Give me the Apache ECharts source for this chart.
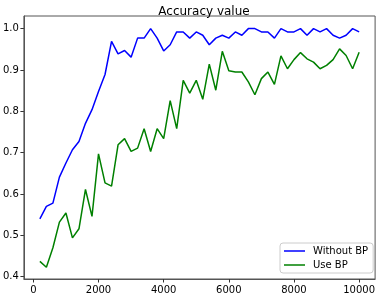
<!DOCTYPE html>
<html>
<head>
<meta charset="utf-8">
<script src="https://cdn.jsdelivr.net/npm/echarts@6/dist/echarts.min.js"></script>
<style>
html,body{margin:0;padding:0;background:#fff;}
#chart{width:378px;height:297px;}
</style>
</head>
<body>
<div id="chart"></div>
<script>
var steps = [200,400,600,800,1000,1200,1400,1600,1800,2000,
  2200,2400,2600,2800,3000,3200,3400,3600,3800,4000,
  4200,4400,4600,4800,5000,5200,5400,5600,5800,6000,
  6200,6400,6600,6800,7000,7200,7400,7600,7800,8000,
  8200,8400,8600,8800,9000,9200,9400,9600,9800,10000];
var withoutBP = [0.540,0.570,0.578,0.641,0.675,0.707,0.727,0.771,0.804,0.848,
  0.889,0.969,0.939,0.947,0.931,0.977,0.977,1.000,0.977,0.946,
  0.961,0.992,0.992,0.977,0.992,0.984,0.961,0.977,0.984,0.977,
  0.992,0.984,1.000,1.000,0.992,0.992,0.977,1.000,0.992,0.992,
  1.000,0.984,1.000,0.992,1.000,0.984,0.977,0.984,1.000,0.992];
var useBP = [0.437,0.423,0.470,0.532,0.554,0.494,0.516,0.611,0.546,0.697,
  0.627,0.619,0.719,0.734,0.703,0.711,0.758,0.703,0.758,0.734,
  0.826,0.758,0.875,0.844,0.875,0.829,0.914,0.851,0.945,0.898,
  0.895,0.895,0.871,0.840,0.879,0.895,0.865,0.934,0.903,0.925,
  0.942,0.927,0.919,0.903,0.911,0.925,0.951,0.935,0.903,0.943];
var xTicks = [0,2000,4000,6000,8000,10000];
var yTicks = [0.4,0.5,0.6,0.7,0.8,0.9,1.0];
var seriesNames = ['Without BP','Use BP'];
var titleText = 'Accuracy value';

function pairs(xs, ys){ return xs.map(function(x,i){ return [x, ys[i]]; }); }

var font = 'DejaVu Sans';
var chart = echarts.init(document.getElementById('chart'), null, {renderer:'canvas'});
chart.setOption({
  animation:false,
  backgroundColor:'#fff',
  title:{text:titleText, left:199, top:1, textAlign:'center',
    textStyle:{fontFamily:font, fontSize:12, fontWeight:'normal', color:'#000'}},
  grid:{left:23, right:2.5, top:16, bottom:18, show:true, borderColor:'#555', borderWidth:1, containLabel:false},
  xAxis:{type:'value', min:-290, max:10490,
    axisLine:{show:true, onZero:false, lineStyle:{color:'#555', width:1}},
    axisTick:{show:true, length:3.5, lineStyle:{color:'#333'}, customValues:xTicks},
    axisLabel:{show:true, margin:6, fontFamily:font, fontSize:10, color:'#000', customValues:xTicks,
      formatter:function(v){return String(v);}},
    splitLine:{show:false}},
  yAxis:{type:'value', min:0.3945, max:1.0305,
    axisLine:{show:true, onZero:false, lineStyle:{color:'#555', width:1}},
    axisTick:{show:true, length:3.5, lineStyle:{color:'#333'}, customValues:yTicks},
    axisLabel:{show:true, margin:5, fontFamily:font, fontSize:10, color:'#000', customValues:yTicks,
      formatter:function(v){return v.toFixed(1);}},
    splitLine:{show:false}},
  legend:{orient:'vertical', left:280, top:243, icon:'rect', itemWidth:21, itemHeight:1.5, itemGap:4,
    padding:[3,5,3,4], borderColor:'#ccc', borderWidth:1, borderRadius:3, backgroundColor:'#fff',
    textStyle:{fontFamily:font, fontSize:10, color:'#000', padding:[0,0,0,3]},
    data:seriesNames},
  series:[
    {name:seriesNames[0], type:'line', data:pairs(steps, withoutBP), symbol:'none', showSymbol:false,
      lineStyle:{color:'#0000ff', width:1.5}, itemStyle:{color:'#0000ff'}},
    {name:seriesNames[1], type:'line', data:pairs(steps, useBP), symbol:'none', showSymbol:false,
      lineStyle:{color:'#008000', width:1.5}, itemStyle:{color:'#008000'}}
  ]
});
</script>
</body>
</html>
